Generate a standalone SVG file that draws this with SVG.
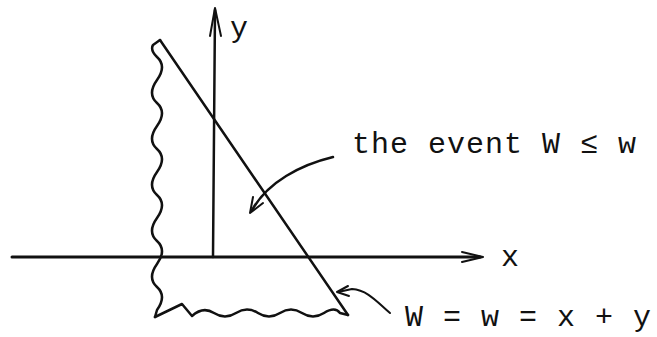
<svg xmlns="http://www.w3.org/2000/svg" width="657" height="337" viewBox="0 0 657 337">
<style>
.ln{fill:none;stroke:#111;stroke-linecap:round;stroke-linejoin:round}
.t{font-family:"Liberation Mono","DejaVu Sans Mono",monospace;font-size:30px;fill:#111;letter-spacing:1px}
</style>
<rect width="657" height="337" fill="#fff"/>
<g id="axes">
  <g id="x-axis">
    <line class="ln" x1="12" y1="257" x2="480" y2="257" stroke-width="3"/>
    <polyline class="ln" points="462,252 483,257 462,262" stroke-width="2"/>
    <text class="t" x="501" y="266">x</text>
  </g>
  <g id="y-axis">
    <line class="ln" x1="213" y1="257" x2="215" y2="10" stroke-width="2.5"/>
    <polyline class="ln" points="210,36 215,8 221,36" stroke-width="2"/>
    <text class="t" x="230" y="37">y</text>
  </g>
</g>
<g id="region">
  <line class="ln" x1="160" y1="40" x2="348" y2="315" stroke-width="2.5"/>
  <path class="ln" stroke-width="2.5" d="M160,40 L153,45 Q150,50 157,57 Q167,66 157,80 T157,103 T157,126 T157,149 T157,172 T157,195 T157,218 T157,241 T157,264 T157,287 T157,310 L155,317"/>
  <path class="ln" stroke-width="2.5" d="M155,317 L182,304 L192,316 Q203,306 214,313 T236,313 T258,313 T280,313 T302,313 T324,313 T340,313 L348,315"/>
</g>
<g id="connectors">
  <path class="ln" stroke-width="2.5" d="M333,157 C300,165 268,182 252,210"/>
  <polyline class="ln" stroke-width="2" points="253,197 250,213 263,203"/>
  <path class="ln" stroke-width="2" d="M390,313 C378,303 368,290 352,289 L338,292"/>
  <polyline class="ln" stroke-width="2" points="348,286 337,292 349,296"/>
</g>
<g id="label-event">
  <text class="t" x="352" y="153">the event W ≤ w</text>
</g>
<g id="label-line">
  <text class="t" x="405" y="326">W = w = x + y</text>
</g>
</svg>
